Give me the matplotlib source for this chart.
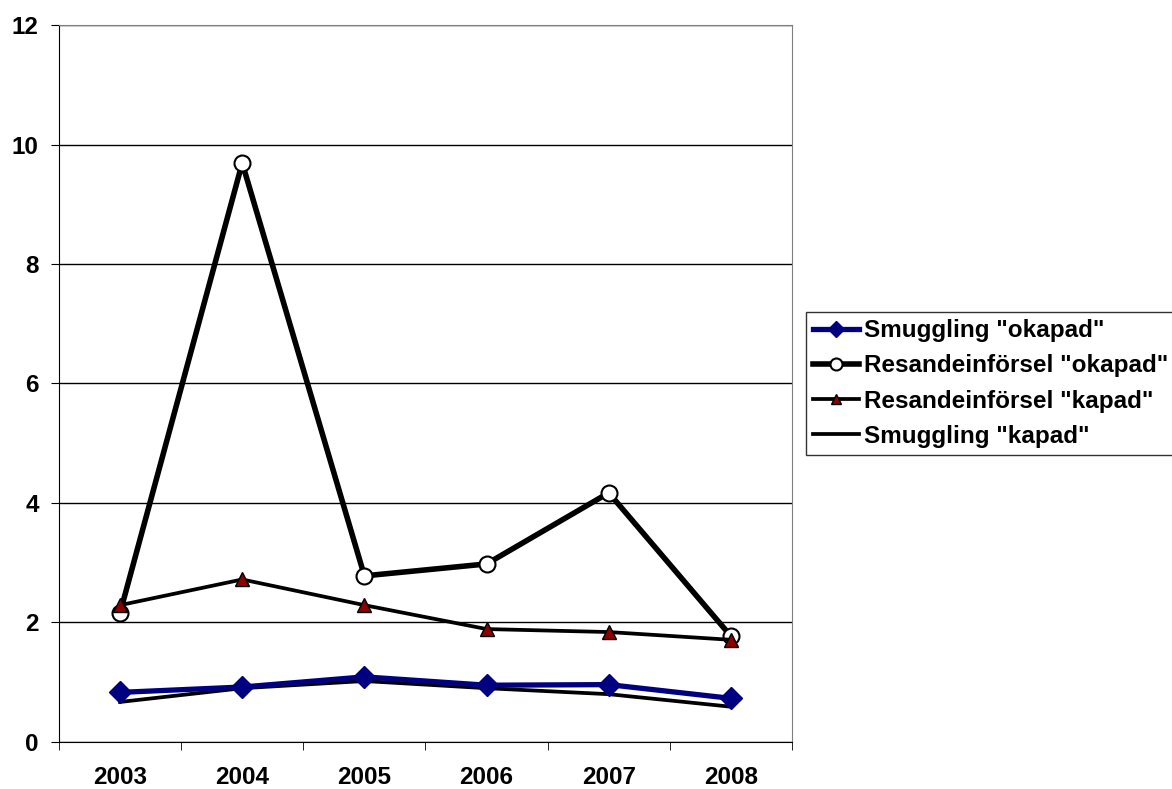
import numpy as np
import matplotlib
matplotlib.use("Agg")
import matplotlib.pyplot as plt

plt.rcParams['font.family'] = ['Liberation Sans', 'DejaVu Sans']
plt.rcParams['font.weight'] = 'bold'

years = ["2003", "2004", "2005", "2006", "2007", "2008"]
smuggling_okapad = [0.83, 0.92, 1.09, 0.95, 0.96, 0.73]
resande_okapad = [2.16, 9.69, 2.78, 2.98, 4.17, 1.77]
resande_kapad = [2.29, 2.72, 2.29, 1.89, 1.84, 1.71]
smuggling_kapad = [0.67, 0.90, 1.02, 0.90, 0.80, 0.59]

x = np.arange(len(years))
fs = 17.5

fig = plt.figure(figsize=(11.72, 7.89), dpi=100)
ax = fig.add_axes([0.0503, 0.0596, 0.6255, 0.9087])

ax.plot(x, smuggling_okapad, color="#000080", lw=3.8, marker="D", ms=11,
        mfc="#000080", mec="#000080", label='Smuggling "okapad"', zorder=4)
ax.plot(x, resande_okapad, color="black", lw=4, marker="o", ms=11.5,
        mfc="white", mec="black", mew=1.5, label='Resandeinförsel "okapad"', zorder=3)
ax.plot(x, resande_kapad, color="black", lw=2.7, marker="^", ms=10,
        mfc="#8B0000", mec="black", mew=1, label='Resandeinförsel "kapad"', zorder=5)
ax.plot(x, smuggling_kapad, color="black", lw=2.7, label='Smuggling "kapad"', zorder=3)

ax.set_xlim(-0.5, 5.5)
ax.set_ylim(0, 12)
ax.set_yticks(range(0, 13, 2))
ax.set_xticks(x)
ax.set_xticklabels(years, fontsize=fs, fontweight="bold")
ax.set_xticks(np.arange(-0.5, 6, 1), minor=True)
ax.tick_params(axis="x", which="major", length=0, pad=17)
ax.tick_params(axis="x", which="minor", length=6, direction="out", color="black")
ax.tick_params(axis="y", length=6, direction="out", labelsize=fs, pad=8.5)
for lab in ax.get_yticklabels():
    lab.set_fontweight("bold")

ax.yaxis.grid(True, color="black", lw=1)
ax.set_axisbelow(True)
ax.spines["left"].set_color("black")
ax.spines["bottom"].set_color("black")
ax.spines["right"].set_color("#808080")
ax.spines["top"].set_color("#808080")

leg = fig.legend(loc="upper left", bbox_to_anchor=(0.6877, 0.6046), fontsize=fs,
                 frameon=True, fancybox=False, edgecolor="black", handlelength=1.9,
                 handletextpad=0.2, borderpad=0.3, borderaxespad=0, labelspacing=0.5,
                 markerscale=0.75)
leg.get_frame().set_linewidth(1)
for t in leg.get_texts():
    t.set_fontweight("bold")

fig.savefig("out.png", dpi=100)
